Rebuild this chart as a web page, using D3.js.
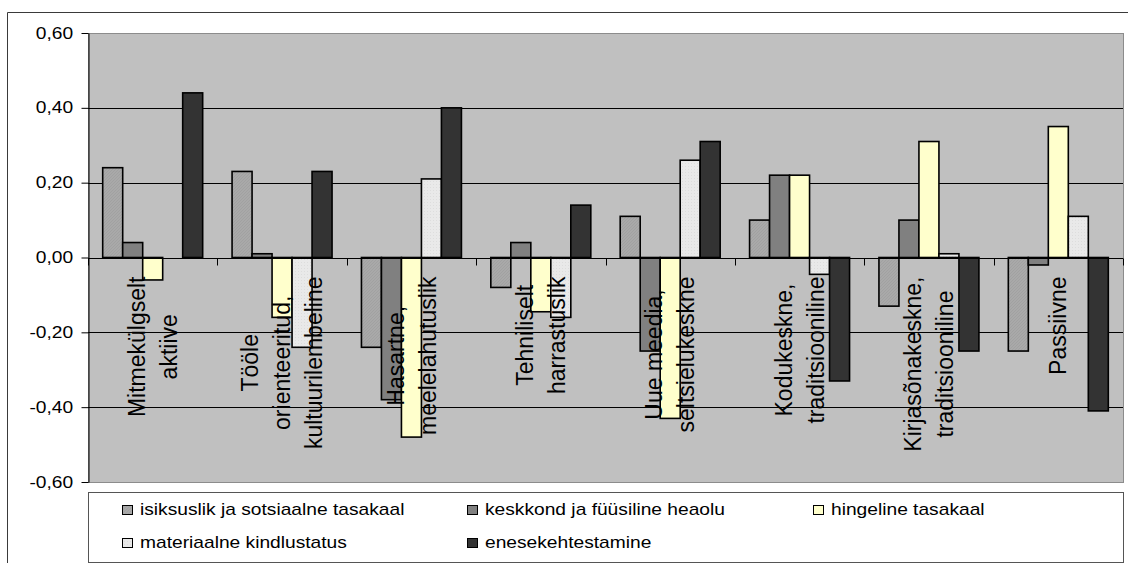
<!DOCTYPE html>
<html>
<head>
<meta charset="utf-8">
<script src="https://cdn.jsdelivr.net/npm/d3@7"></script>
<style>
  body { margin: 0; background: #fff; }
  svg { display: block; font-family: "Liberation Sans", Arial, sans-serif; }
</style>
</head>
<body>
<svg id="chart" width="1128" height="563"></svg>
<script>
// Leisure-type groups (line breaks mark wrapped axis labels)
const categories = [
  "Mitmekülgselt\naktiive",
  "Tööle\norienteeritud,\nkultuurilembeline",
  "Hasartne,\nmeelelahutuslik",
  "Tehniliselt\nharrastuslik",
  "Uue meedia,\nseltsielukeskne",
  "Kodukeskne,\ntraditsiooniline",
  "Kirjasõnakeskne,\ntraditsiooniline",
  "Passiivne"
];

const seriesNames = [
  "isiksuslik ja sotsiaalne tasakaal",
  "keskkond ja füüsiline heaolu",
  "hingeline tasakaal",
  "materiaalne kindlustatus",
  "enesekehtestamine"
];

const isiksuslik        = [0.24, 0.23, -0.24, -0.08, 0.11, 0.10, -0.13, -0.25];
const keskkond          = [0.04, 0.01, -0.38, 0.04, -0.25, 0.22, 0.10, -0.02];
const hingeline         = [-0.06, -0.16, -0.48, -0.145, -0.43, 0.22, 0.31, 0.35];
const materiaalne       = [0.00, -0.24, 0.21, -0.16, 0.26, -0.045, 0.01, 0.11];
const enesekehtestamine = [0.44, 0.23, 0.40, 0.14, 0.31, -0.33, -0.25, -0.41];

const yTicks = [-0.6, -0.4, -0.2, 0, 0.2, 0.4, 0.6];

const seriesValues = [isiksuslik, keskkond, hingeline, materiaalne, enesekehtestamine];
const seriesFills = ["url(#hatchGray)", "#808080", "#FFFFCC", "url(#dotLight)", "#333333"];

const svg = d3.select("#chart");

// fine fill textures
const defs = svg.append("defs");
const hatch = defs.append("pattern").attr("id", "hatchGray")
  .attr("patternUnits", "userSpaceOnUse").attr("width", 3).attr("height", 3);
hatch.append("rect").attr("width", 3).attr("height", 3).attr("fill", "#A9A9A9");
hatch.append("path").attr("d", "M0,3 L3,0").attr("stroke", "#A0A0A0").attr("stroke-width", 0.8);
const dots = defs.append("pattern").attr("id", "dotLight")
  .attr("patternUnits", "userSpaceOnUse").attr("width", 3).attr("height", 3);
dots.append("rect").attr("width", 3).attr("height", 3).attr("fill", "#E9E9E9");
dots.append("rect").attr("x", 1).attr("y", 1).attr("width", 1).attr("height", 1).attr("fill", "#DDDDDD");

const plot = { left: 88, right: 1123, top: 33, bottom: 482 };

const y = d3.scaleLinear().domain([-0.6, 0.6]).range([plot.bottom, plot.top]);
const x0 = d3.scaleBand().domain(d3.range(categories.length))
  .range([plot.left, plot.right]).paddingInner(0).paddingOuter(0);
const x1 = d3.scaleBand().domain(d3.range(seriesNames.length))
  .range([0, x0.bandwidth()]).paddingInner(0).paddingOuter(0.735);

const locale = d3.formatLocale({ decimal: ",", thousands: " ", grouping: [3], currency: ["", ""], minus: "-" });
const fmt = locale.format(".2f");
const crisp = v => Math.round(v) + 0.5;

// outer chart frame
svg.append("path")
  .attr("d", "M7.5,563 V12.5 H1128")
  .attr("fill", "none").attr("stroke", "#3a3a3a").attr("stroke-width", 1);

// plot area
svg.append("rect")
  .attr("x", plot.left + 0.5).attr("y", plot.top + 0.5)
  .attr("width", plot.right - plot.left).attr("height", plot.bottom - plot.top)
  .attr("fill", "#C0C0C0").attr("stroke", "#8C8C8C");

// gridlines
svg.append("g").selectAll("line")
  .data(yTicks.filter(t => Math.abs(t) < 0.6))
  .join("line")
  .attr("x1", plot.left).attr("x2", plot.right)
  .attr("y1", d => crisp(y(d))).attr("y2", d => crisp(y(d)))
  .attr("stroke", "#000").attr("stroke-width", 1);

// bars
const barsG = svg.append("g");
seriesValues.forEach((vals, s) => {
  barsG.append("g").selectAll("rect")
    .data(vals)
    .join("rect")
    .attr("x", (d, i) => x0(i) + x1(s))
    .attr("y", d => y(Math.max(d, 0)))
    .attr("width", x1.bandwidth())
    .attr("height", d => Math.abs(y(d) - y(0)))
    .attr("fill", seriesFills[s])
    .attr("stroke", "#000").attr("stroke-width", 1.6);
});

// category axis at zero
const y0 = crisp(y(0));
svg.append("line")
  .attr("x1", plot.left).attr("x2", plot.right)
  .attr("y1", y0).attr("y2", y0)
  .attr("stroke", "#000").attr("stroke-width", 1);
const boundaries = d3.range(categories.length).map(i => x0(i)).concat([plot.right]);
svg.append("g").selectAll("line")
  .data(boundaries)
  .join("line")
  .attr("x1", d => crisp(d)).attr("x2", d => crisp(d))
  .attr("y1", y0).attr("y2", y0 + 7)
  .attr("stroke", "#000");

// value axis
const yAxis = svg.append("g")
  .attr("transform", `translate(${plot.left + 0.5},0)`)
  .call(d3.axisLeft(y).tickValues(yTicks).tickSize(7).tickSizeOuter(0).tickPadding(8).tickFormat(fmt));
yAxis.select(".domain").attr("stroke", "#000");
yAxis.selectAll(".tick line").attr("stroke", "#000");
yAxis.selectAll(".tick text")
  .attr("font-size", 16)
  .attr("font-family", "'Liberation Sans', Arial, sans-serif")
  .attr("fill", "#000")
  .attr("x", -15.3 / 1.2)
  .attr("transform", "scale(1.2,1)");

// rotated category labels
const labelsG = svg.append("g");
categories.forEach((name, i) => {
  const lines = name.split("\n");
  const cx = x0(i) + x0.bandwidth() / 2;
  const g = labelsG.append("g");
  const texts = lines.map((line, j) =>
    g.append("text")
      .attr("font-size", 23)
      .attr("fill", "#000")
      .attr("text-anchor", "middle")
      .attr("dy", "0.35em")
      .text(line)
  );
  const maxLen = d3.max(texts, t => t.node().getComputedTextLength());
  const cy = y(0) + 19 + maxLen / 2;
  texts.forEach((t, j) => {
    const lx = cx + (j - (lines.length - 1) / 2) * 32;
    t.attr("transform", `translate(${lx},${cy}) rotate(-90)`);
  });
});

// legend
svg.append("rect")
  .attr("x", plot.left + 0.5).attr("y", 492.5)
  .attr("width", plot.right - plot.left).attr("height", 70)
  .attr("fill", "#fff").attr("stroke", "#555").attr("stroke-width", 1);

const legendCols = [122, 467, 813];
const legendRows = [505, 538];
const legendG = svg.append("g");
seriesNames.forEach((name, s) => {
  const col = s < 3 ? s : s - 3;
  const row = s < 3 ? 0 : 1;
  const lx = legendCols[col], ly = legendRows[row];
  legendG.append("rect")
    .attr("x", lx + 0.5).attr("y", ly + 0.5)
    .attr("width", 10).attr("height", 9)
    .attr("fill", seriesFills[s]).attr("stroke", "#000");
  legendG.append("text")
    .attr("transform", `translate(${lx + 18},${ly + 9.5}) scale(1.2,1)`)
    .attr("font-size", 16)
    .attr("fill", "#000")
    .text(name);
});
</script>
</body>
</html>
